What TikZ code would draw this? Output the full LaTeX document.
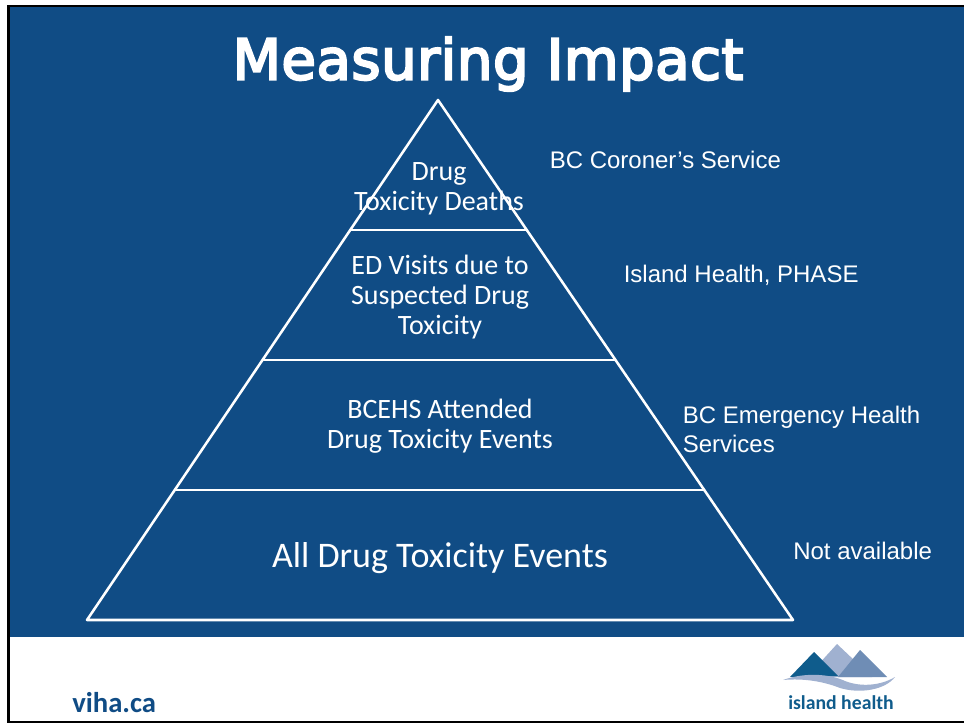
\documentclass[tikz,border=0pt]{standalone}
\usepackage{fontspec}
\setmainfont{Carlito}
\newfontfamily\arialf{Liberation Sans}
\newfontfamily\titlef[FakeBold=4,LetterSpace=1]{DejaVu Sans}
\definecolor{ihblue}{HTML}{104C85}
\definecolor{logodark}{HTML}{0F5C8C}
\definecolor{logomid}{HTML}{6F8DB5}
\definecolor{logolight}{HTML}{A0B1D0}
\tikzset{
  px/.style={x=0.75pt,y=-0.75pt},
  pyr/.style={draw=white,line width=1.9pt,line join=round,line cap=round},
  pyrtext/.style={text=white,font=\fontsize{21}{22.5}\selectfont,align=center,inner sep=0pt,anchor=center},
  src/.style={text=white,font=\arialf\fontsize{18}{21.7}\selectfont,align=left,inner sep=0pt,anchor=west},
}
\begin{document}
\begin{tikzpicture}[px]
\useasboundingbox (0,0) rectangle (964,723);
\fill[white] (0,0) rectangle (964,723);
\fill[black] (7,5) rectangle (964,723);
\fill[white] (10,7) rectangle (964,721);
\fill[ihblue] (10,7) rectangle (964,637);
\node[text=white,font=\titlef\fontsize{42}{50}\selectfont,inner sep=0pt] (title) at (488,64) {Measuring Impact};
% pyramid
\coordinate (apex) at (438,100);
\coordinate (bl) at (87,620);
\coordinate (br) at (793,620);
\coordinate (l1) at (351,230);\coordinate (r1) at (527,230);
\coordinate (l2) at (264,360);\coordinate (r2) at (615,360);
\coordinate (l3) at (176,490);\coordinate (r3) at (704,490);
\draw[pyr] (apex) -- (bl) -- (br) -- cycle;
\draw[pyr] (l1) -- (r1);
\draw[pyr] (l2) -- (r2);
\draw[pyr] (l3) -- (r3);
\node[pyrtext] (t1) at (439,188.5) {Drug\\Toxicity Deaths};
\node[pyrtext] (t2) at (440,297.5) {ED Visits due to\\Suspected Drug\\Toxicity};
\node[pyrtext] (t3) at (440,426.5) {BCEHS Attended\\Drug Toxicity Events};
\node[pyrtext,font=\fontsize{27}{30}\selectfont] (t4) at (440,558) {All Drug Toxicity Events};
\node[src] (s1) at (549.5,160) {BC Coroner’s Service};
\node[src] (s2) at (623.5,275) {Island Health, PHASE};
\node[src] (s3) at (682.5,429) {BC Emergency Health\\Services};
\node[src] (s4) at (793,551) {Not available};
\node[text=ihblue,font=\bfseries\fontsize{21.5}{24}\selectfont,inner sep=0pt,anchor=west] (viha) at (72,703) {viha.ca};
% logo
\fill[logolight] (807,677) -- (837,644) -- (872,677) -- cycle;
\fill[logomid] (838,677) -- (860,650) -- (887,677) -- cycle;
\fill[logodark] (790,677) -- (814,652) -- (838,676) -- cycle;
\fill[logolight] (783,680) .. controls (805,672) and (830,674) .. (845,681)
  .. controls (860,687) and (880,686) .. (895,677)
  .. controls (885,690) and (860,694) .. (840,688)
  .. controls (825,682) and (805,678) .. (783,680) -- cycle;
\node[text=logodark,font=\bfseries\fontsize{14.8}{18}\selectfont,inner sep=0pt] (logotext) at (841,703) {island health};
\end{tikzpicture}
\end{document}
